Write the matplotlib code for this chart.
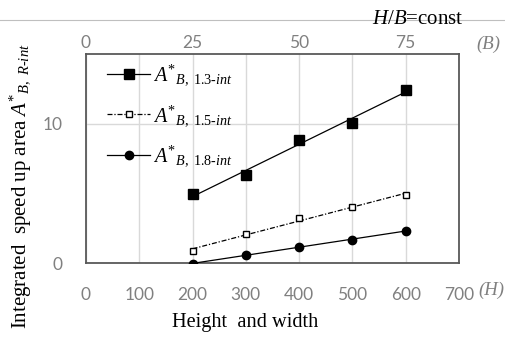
import numpy as np
import matplotlib
matplotlib.use("Agg")
import matplotlib.pyplot as plt
from matplotlib.lines import Line2D

# Building height H and the three speed-up area series
heights = [200, 300, 400, 500, 600]
a_13 = [4.96, 6.28, 8.85, 10.07, 12.45]
a_15 = [0.86, 2.09, 3.20, 4.05, 4.87]
a_18 = [-0.05, 0.58, 1.17, 1.65, 2.32]

x_ticks = [0, 100, 200, 300, 400, 500, 600, 700]
y_ticks = [0, 10]
b_ticks = [0, 25, 50, 75]
hb_ratio = 8.0

plt.rcParams["mathtext.fontset"] = "custom"
plt.rcParams["mathtext.rm"] = "Liberation Serif"
plt.rcParams["mathtext.it"] = "Liberation Serif:italic"
plt.rcParams["mathtext.bf"] = "Liberation Serif:bold"

W, H = 506, 343
fig = plt.figure(figsize=(W / 100, H / 100), dpi=100)
ax = fig.add_axes([86 / W, 1 - 263 / H, (459 - 86) / W, (263 - 54) / H])

tick_grey = "#808080"
tick_font = dict(family="Lato", size=12.5, color=tick_grey)

series = [
    (a_13, dict(marker="s", ms=6.5, mfc="black", mec="black", ls="-"),
     r"$A^{*}{}_{B,\ 1.3\text{-}int}$"),
    (a_15, dict(marker="s", ms=4.2, mfc="white", mec="black", mew=1.0,
                ls=(0, (4, 1.5, 1, 1.5))),
     r"$A^{*}{}_{B,\ 1.5\text{-}int}$"),
    (a_18, dict(marker="o", ms=6.0, mfc="black", mec="black", ls="-"),
     r"$A^{*}{}_{B,\ 1.8\text{-}int}$"),
]

handles = []
xs = np.array(heights, dtype=float)
for vals, style, label in series:
    ys = np.array(vals)
    k, b = np.polyfit(xs, ys, 1)
    ax.plot(xs, k * xs + b, color="black", lw=0.9, ls=style["ls"], zorder=3)
    ax.plot(xs, ys, ls="none", marker=style["marker"], ms=style["ms"],
            mfc=style["mfc"], mec=style["mec"], mew=style.get("mew", 1.0),
            zorder=4)
    handles.append(Line2D([], [], color="black", lw=0.9, ls=style["ls"],
                          marker=style["marker"], ms=style["ms"],
                          mfc=style["mfc"], mec=style["mec"],
                          mew=style.get("mew", 1.0), label=label))

ax.set_xlim(0, 700)
ax.set_ylim(0, 15)
ax.set_xticks(x_ticks)
ax.set_yticks(y_ticks)
ax.set_xticklabels([str(v) for v in x_ticks], **tick_font)
ax.set_yticklabels([str(v) for v in y_ticks], **tick_font)
ax.tick_params(length=0)
ax.tick_params(axis="x", pad=17)
ax.tick_params(axis="y", pad=17)
ax.grid(True, color="#d9d9d9", lw=1.0)
ax.set_axisbelow(True)
for sp in ax.spines.values():
    sp.set_color("#595959")
    sp.set_linewidth(1.3)

top = ax.secondary_xaxis("top", functions=(lambda h: h / hb_ratio,
                                           lambda bb: bb * hb_ratio))
top.set_xticks(b_ticks)
top.set_xticklabels([str(v) for v in b_ticks], **tick_font)
top.tick_params(length=0, pad=2)
top.spines["top"].set_visible(False)

leg = ax.legend(handles=handles, loc="upper left", frameon=False,
                bbox_to_anchor=(0.056, 0.955), borderaxespad=0, borderpad=0,
                handlelength=2.15, handletextpad=0.15, labelspacing=0.75,
                prop=dict(family="Liberation Serif", style="italic",
                          size=14.5))

# Axis titles and annotations
fig.text(20 / W, 1 - 186 / H,
         r"Integrated  speed up area $A^{*}{}_{B,\ R\text{-}int}$",
         rotation=90, ha="center", va="center",
         family="Liberation Serif", size=15)
fig.text(245 / W, 1 - 323 / H, "Height  and width", ha="center", va="center",
         family="Liberation Serif", size=14.7)
fig.text(418 / W, 1 - 20 / H, r"$H/B$=const", ha="center", va="center",
         family="Liberation Serif", size=15)
fig.text(476 / W, 1 - 44 / H, "(B)", ha="left", va="center",
         family="Liberation Serif", style="italic", size=13.5, color=tick_grey)
fig.text(478 / W, 1 - 290 / H, "(H)", ha="left", va="center",
         family="Liberation Serif", style="italic", size=13.5, color=tick_grey)
fig.add_artist(Line2D([0, 1], [1 - 20 / H, 1 - 20 / H],
                      transform=fig.transFigure, color="#bfbfbf", lw=0.8,
                      zorder=0))

fig.savefig("out.png", dpi=100)
